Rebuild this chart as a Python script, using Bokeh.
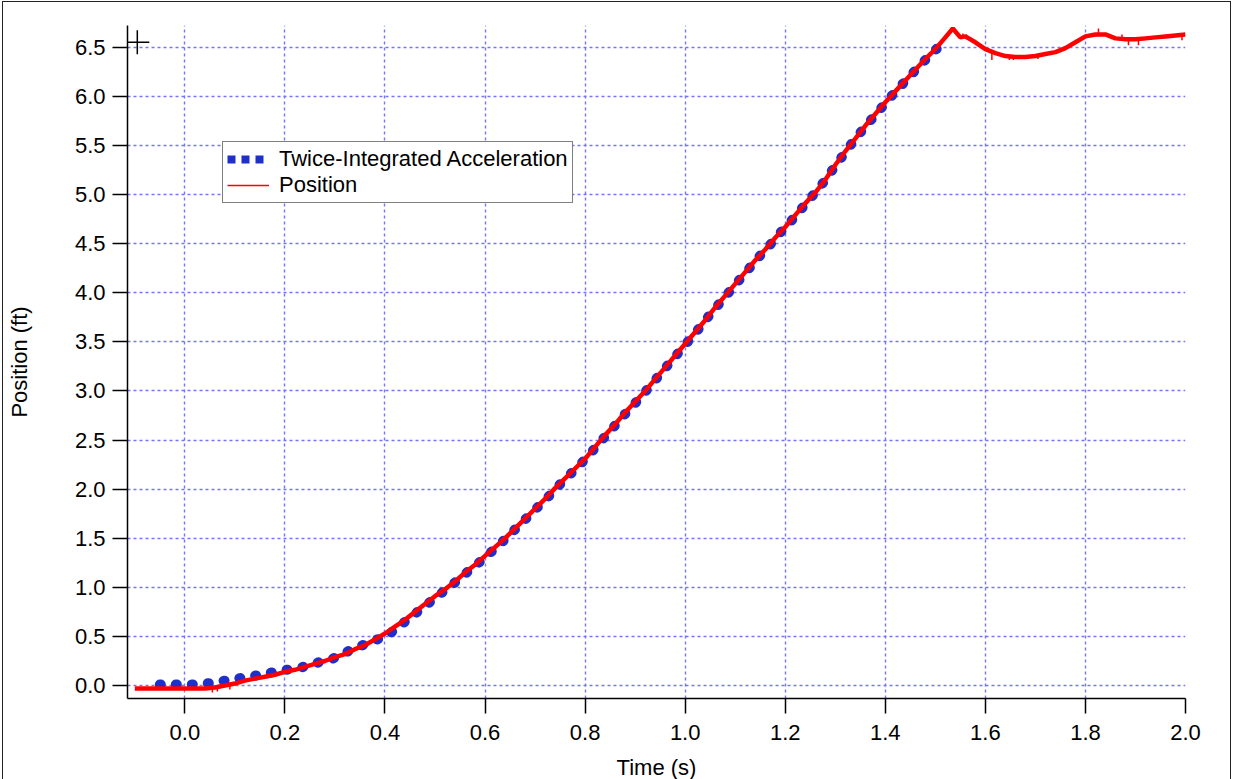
from bokeh.plotting import figure
from bokeh.models import Range1d, FixedTicker, NumeralTickFormatter, Legend, LegendItem, ColumnDataSource
from bokeh.embed import file_html
from bokeh.resources import INLINE

# ---- data ----
time_pos = [-0.10, -0.08, -0.06, -0.04, -0.02, 0.00, 0.02, 0.04, 0.06, 0.08,
            0.10, 0.12, 0.14, 0.16, 0.18, 0.20, 0.22, 0.24, 0.26, 0.28,
            0.30, 0.32, 0.34, 0.36, 0.38, 0.40, 0.42, 0.44, 0.46, 0.48,
            0.50, 0.52, 0.54, 0.56, 0.58, 0.60, 0.62, 0.64, 0.66, 0.68,
            0.70, 0.72, 0.74, 0.76, 0.78, 0.80, 0.82, 0.84, 0.86, 0.88,
            0.90, 0.92, 0.94, 0.96, 0.98, 1.00, 1.02, 1.04, 1.06, 1.08,
            1.10, 1.12, 1.14, 1.16, 1.18, 1.20, 1.22, 1.24, 1.26, 1.28,
            1.30, 1.32, 1.34, 1.36, 1.38, 1.40, 1.42, 1.44, 1.46, 1.48,
            1.50, 1.52, 1.535, 1.55, 1.56, 1.58, 1.60, 1.62, 1.64, 1.66,
            1.68, 1.70, 1.72, 1.74, 1.76, 1.78, 1.80, 1.82, 1.84, 1.86,
            1.88, 1.90, 1.92, 1.94, 1.96, 1.98, 2.00]
position = [-0.03, -0.03, -0.03, -0.03, -0.03, -0.03, -0.03, -0.03, -0.02, 0.00,
            0.02, 0.05, 0.07, 0.09, 0.11, 0.14, 0.16, 0.19, 0.22, 0.25,
            0.29, 0.32, 0.37, 0.41, 0.47, 0.53, 0.60, 0.67, 0.75, 0.83,
            0.91, 0.98, 1.06, 1.15, 1.23, 1.32, 1.41, 1.50, 1.60, 1.70,
            1.80, 1.90, 2.01, 2.11, 2.21, 2.31, 2.43, 2.55, 2.66, 2.78,
            2.89, 3.00, 3.12, 3.24, 3.36, 3.48, 3.60, 3.72, 3.85, 3.97,
            4.09, 4.21, 4.33, 4.44, 4.56, 4.67, 4.79, 4.91, 5.02, 5.15,
            5.30, 5.44, 5.57, 5.70, 5.82, 5.94, 6.05, 6.16, 6.27, 6.38,
            6.48, 6.60, 6.69, 6.60, 6.61, 6.55, 6.48, 6.44, 6.41, 6.40,
            6.40, 6.41, 6.43, 6.45, 6.49, 6.55, 6.61, 6.63, 6.63, 6.59,
            6.58, 6.58, 6.59, 6.60, 6.61, 6.62, 6.63]

time_acc = [-0.05, -0.03, -0.01, 0.01, 0.03, 0.05, 0.07, 0.09, 0.11, 0.13,
            0.15, 0.17, 0.19, 0.21, 0.23, 0.25, 0.27, 0.29, 0.31, 0.33,
            0.35, 0.37, 0.39, 0.41, 0.43, 0.45, 0.47, 0.49, 0.51, 0.53,
            0.55, 0.57, 0.59, 0.61, 0.63, 0.65, 0.67, 0.69, 0.71, 0.73,
            0.75, 0.77, 0.79, 0.81, 0.83, 0.85, 0.87, 0.89, 0.91, 0.93,
            0.95, 0.97, 0.99, 1.01, 1.03, 1.05, 1.07, 1.09, 1.11, 1.13,
            1.15, 1.17, 1.19, 1.21, 1.23, 1.25, 1.27, 1.29, 1.31, 1.33,
            1.35, 1.37, 1.39, 1.41, 1.43, 1.45, 1.47, 1.49, 1.51, 1.52]
integrated = [0.01, 0.01, 0.01, 0.01, 0.015, 0.025, 0.04, 0.06, 0.075, 0.09,
              0.11, 0.13, 0.15, 0.165, 0.18, 0.21, 0.24, 0.265, 0.30, 0.36,
              0.40, 0.44, 0.48, 0.53, 0.61, 0.69, 0.77, 0.85, 0.93, 1.01,
              1.09, 1.18, 1.26, 1.35, 1.44, 1.54, 1.64, 1.74, 1.84, 1.94,
              2.05, 2.15, 2.25, 2.36, 2.48, 2.59, 2.71, 2.82, 2.93, 3.05,
              3.17, 3.29, 3.41, 3.53, 3.65, 3.78, 3.90, 4.02, 4.14, 4.26,
              4.38, 4.49, 4.61, 4.72, 4.84, 4.96, 5.08, 5.22, 5.36, 5.50,
              5.63, 5.75, 5.87, 5.99, 6.10, 6.21, 6.32, 6.42, 6.52, 6.57]

# noise spikes on the position trace
spike_t = [0.055, 0.065, 0.09, 1.555, 1.562, 1.613, 1.648, 1.656, 1.663, 1.705,
           1.826, 1.873, 1.886, 1.906, 1.993]
spike_lo = [-0.07, -0.06, -0.04, 6.59, 6.58, 6.37, 6.37, 6.37, 6.38, 6.38,
            6.62, 6.58, 6.52, 6.52, 6.57]
spike_hi = [-0.03, -0.03, 0.00, 6.64, 6.63, 6.45, 6.41, 6.41, 6.41, 6.42,
            6.69, 6.63, 6.58, 6.58, 6.62]

cursor_t = [-0.095]
cursor_v = [6.55]

x_ticks = [0.0, 0.2, 0.4, 0.6, 0.8, 1.0, 1.2, 1.4, 1.6, 1.8, 2.0]
y_ticks = [0.0, 0.5, 1.0, 1.5, 2.0, 2.5, 3.0, 3.5, 4.0, 4.5, 5.0, 5.5, 6.0, 6.5]

FONT = "Liberation Sans"
BLUE = "#1f2fcc"
RED = "#ff0000"
GRID = "#7474ff"
FS = "22px"

p = figure(width=1229, height=780, output_backend="svg", toolbar_location=None,
           x_range=Range1d(-0.1146, 2.0), y_range=Range1d(-0.132, 6.721),
           min_border_left=124, min_border_right=47, min_border_top=23, min_border_bottom=84)
p.styles = {"border": "1.5px solid #222222", "margin-left": "2px", "margin-top": "1px"}
p.outline_line_color = None
p.background_fill_color = "white"
p.border_fill_color = "white"

# axes
p.xaxis.ticker = FixedTicker(ticks=x_ticks)
p.yaxis.ticker = FixedTicker(ticks=y_ticks)
p.xaxis.formatter = NumeralTickFormatter(format="0.0")
p.yaxis.formatter = NumeralTickFormatter(format="0.0")
for ax in (p.xaxis[0], p.yaxis[0]):
    ax.axis_line_color = "black"
    ax.axis_line_width = 1.5
    ax.major_tick_line_color = "black"
    ax.major_tick_line_width = 1.5
    ax.major_tick_out = 15
    ax.major_tick_in = 0
    ax.minor_tick_line_color = None
    ax.major_label_text_font = FONT
    ax.major_label_text_font_size = FS
    ax.major_label_text_color = "black"
    ax.major_label_text_line_height = 1.0
    ax.axis_label_text_font = FONT
    ax.axis_label_text_font_size = FS
    ax.axis_label_text_font_style = "normal"
    ax.axis_label_text_color = "black"
    ax.axis_label_text_line_height = 1.0
p.xaxis.axis_label = "Time (s)"
p.yaxis.axis_label = "Position (ft)"
p.xaxis.major_label_standoff = 11
p.yaxis.major_label_standoff = 7
p.xaxis.axis_label_standoff = 12
p.yaxis.axis_label_standoff = 40

# grid
for g in (p.xgrid[0], p.ygrid[0]):
    g.grid_line_color = GRID
    g.grid_line_dash = "3 3"
    g.grid_line_width = 1.4
p.xgrid.ticker = FixedTicker(ticks=x_ticks)
p.ygrid.ticker = FixedTicker(ticks=y_ticks)

# series
acc_src = ColumnDataSource(dict(t=time_acc, v=integrated))
pos_src = ColumnDataSource(dict(t=time_pos, v=position))
p.line("t", "v", source=acc_src, line_color=BLUE, line_width=10,
       line_dash="1 15", line_cap="round")
p.line("t", "v", source=pos_src, line_color=RED, line_width=4.5)
p.segment(x0=spike_t, y0=spike_lo, x1=spike_t, y1=spike_hi, line_color=RED, line_width=1.5)

p.scatter(cursor_t, cursor_v, marker="cross", size=24, line_color="black", line_width=1.5)

# legend (legend-only renderers, no visible data)
nan = float("nan")
dummy = ColumnDataSource(dict(t=[nan], v=[nan]))
leg_blue = p.line("t", "v", source=dummy, line_color=BLUE, line_width=8, line_dash="8 6", line_cap="butt")
leg_red = p.line("t", "v", source=dummy, line_color=RED, line_width=1.5)
legend = Legend(items=[LegendItem(label="Twice-Integrated Acceleration", renderers=[leg_blue]),
                       LegendItem(label="Position", renderers=[leg_red])],
                location=(95, 495), orientation="vertical")
legend.label_text_font = FONT
legend.label_text_font_size = FS
legend.label_text_color = "black"
legend.border_line_color = "black"
legend.border_line_width = 1
legend.background_fill_color = "white"
legend.background_fill_alpha = 1
legend.padding = 4
legend.spacing = 0
legend.margin = 0
legend.label_height = 24
legend.glyph_height = 24
legend.glyph_width = 42
legend.label_standoff = 10
p.add_layout(legend, "center")

open("out.html", "w").write(file_html(p, INLINE))
